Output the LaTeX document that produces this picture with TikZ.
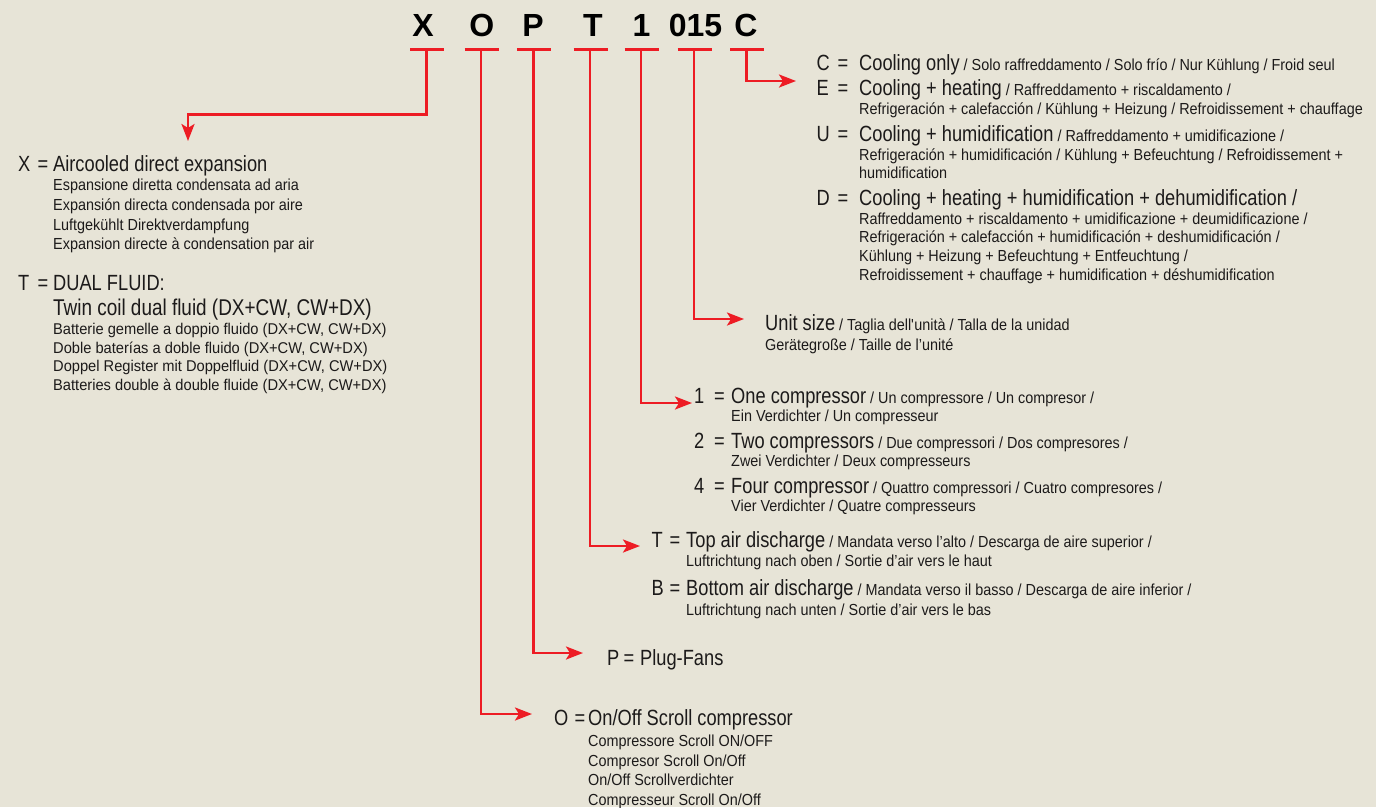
\documentclass[tikz,border=0pt]{standalone}
\usepackage{fontspec}
\setmainfont{Liberation Sans}[FakeStretch=0.83]
\newfontfamily\mfam{Liberation Sans}[FakeStretch=0.83]
\newfontfamily\sfam{Liberation Sans}[FakeStretch=0.9]
\newfontfamily\tfam{Liberation Sans}[FakeStretch=0.94]
\newfontfamily\hfam{Liberation Sans}
\usetikzlibrary{arrows.meta}
\definecolor{bg}{RGB}{231,228,215}
\definecolor{rd}{RGB}{237,28,36}
\definecolor{ink}{RGB}{28,26,26}
\newcommand\mainsz{\mfam\fontsize{22}{24}\selectfont}
\newcommand\smallsz{\sfam\fontsize{16}{19}\selectfont}
\newcommand\tsz{\tfam\fontsize{15.6}{19}\selectfont}
\newcommand\kq[3]{\makebox[#1][l]{#2\hfill=\hspace*{#3}}}
\begin{document}
\begin{tikzpicture}[x=1pt,y=-1pt,
  txt/.style={anchor=base west, inner sep=0pt, text=ink, font=\mainsz},
  sm/.style={anchor=base west, inner sep=0pt, text=ink, font=\smallsz},
  tsm/.style={anchor=base west, inner sep=0pt, text=ink, font=\tsz},
  head/.style={anchor=base, inner sep=0pt, text=black, font=\hfam\bfseries\fontsize{32}{36}\selectfont},
  bar/.style={rd, line width=2.6pt},
  conn/.style={rd, line width=2.6pt, line join=miter, -{Stealth[length=17pt,width=13pt,inset=4pt]}}]
\fill[bg] (0,0) rectangle (1376,807);
\useasboundingbox (0,0) rectangle (1376,807);

% heading code
\node[head] (hX) at (423,36) {X};
\node[head] (hO) at (481.7,36) {O};
\node[head] (hP) at (533,36) {P};
\node[head] (hT) at (593,36) {T};
\node[head] (h1) at (641.5,36) {1};
\node[head] (h015) at (695.5,36) {015};
\node[head] (hC) at (746,36) {C};

% stem tops on the bars
\coordinate (sX) at (426.7,49.3);
\coordinate (sO) at (481,49.3);
\coordinate (sP) at (533.3,49.3);
\coordinate (sT) at (590,49.3);
\coordinate (s1) at (641,49.3);
\coordinate (s015) at (694,49.3);
\coordinate (sC) at (746.7,49.3);
\foreach \s in {sX,sO,sP,sT,s1,s015,sC}
  \draw[bar] ([xshift=-16.5pt]\s) -- ([xshift=17.5pt]\s);

% arrow tips
\coordinate (kX) at (188,114.3);
\coordinate (tX) at (188,141);
\coordinate (tO) at (532,714);
\coordinate (tP) at (583,653);
\coordinate (tT) at (640,546);
\coordinate (t1) at (692,403);
\coordinate (t015) at (744,319);
\coordinate (tC) at (796,81);

\draw[conn] (sX) |- (kX) -- (tX);
\draw[conn] (sO) |- (tO);
\draw[conn] (sP) |- (tP);
\draw[conn] (sT) |- (tT);
\draw[conn] (s1) |- (t1);
\draw[conn] (s015) |- (t015);
\draw[conn] (sC) |- (tC);

% left block
\node[txt] (x0) at (18,171) {\kq{35pt}{X}{5pt}Aircooled direct expansion};
\node[sm] (x1) at (53,190.7) {Espansione diretta condensata ad aria};
\node[sm] (x2) at (53,210.3) {Expansión directa condensada por aire};
\node[sm] (x3) at (53,230) {Luftgekühlt Direktverdampfung};
\node[sm] (x4) at (53,249.7) {Expansion directe à condensation par air};
\node[txt] (d0) at (18,290) {\kq{35pt}{T}{5pt}DUAL FLUID:};
\node[txt, font=\mfam\fontsize{22.8}{24}\selectfont] (d1) at (53,315.7) {Twin coil dual fluid (DX+CW, CW+DX)};
\node[tsm] (d2) at (53,334.5) {Batterie gemelle a doppio fluido (DX+CW, CW+DX)};
\node[tsm] (d3) at (53,353.2) {Doble baterías a doble fluido (DX+CW, CW+DX)};
\node[tsm] (d4) at (53,371.9) {Doppel Register mit Doppelfluid (DX+CW, CW+DX)};
\node[tsm] (d5) at (53,390.6) {Batteries double à double fluide (DX+CW, CW+DX)};

% right block (C)
\node[txt] (c0) at (816.5,70.5) {\kq{42.5pt}{C}{11pt}Cooling only{\smallsz\ / Solo raffreddamento / Solo frío / Nur Kühlung / Froid seul}};
\node[txt] (e0) at (816.5,95.5) {\kq{42.5pt}{E}{11pt}Cooling + heating{\smallsz\ / Raffreddamento + riscaldamento /}};
\node[sm] (e1) at (859,114) {Refrigeración + calefacción / Kühlung + Heizung / Refroidissement + chauffage};
\node[txt] (u0) at (816.5,141.5) {\kq{42.5pt}{U}{11pt}Cooling + humidification{\smallsz\ / Raffreddamento + umidificazione /}};
\node[sm] (u1) at (859,160) {Refrigeración + humidificación / Kühlung + Befeuchtung / Refroidissement +};
\node[sm] (u2) at (859,178) {humidification};
\node[txt] (h0) at (816.5,205.5) {\kq{42.5pt}{D}{11pt}Cooling + heating + humidification + dehumidification /};
\node[sm] (h1) at (859,224) {Raffreddamento + riscaldamento + umidificazione + deumidificazione /};
\node[sm] (h2) at (859,242.7) {Refrigeración + calefacción + humidificación + deshumidificación /};
\node[sm] (h3) at (859,261.4) {Kühlung + Heizung + Befeuchtung + Entfeuchtung /};
\node[sm] (h4) at (859,280) {Refroidissement + chauffage + humidification + déshumidification};

% unit size
\node[txt] (z0) at (765,330) {Unit size{\smallsz\ / Taglia dell\textquotesingle unità / Talla de la unidad}};
\node[sm] (z1) at (765,350) {Gerätegroße / Taille de l’unité};

% compressors
\node[txt] (n1) at (694,403.5) {\kq{37pt}{1}{6.5pt}One compressor{\smallsz\ / Un compressore / Un compresor /}};
\node[sm] (n1b) at (731,421.5) {Ein Verdichter / Un compresseur};
\node[txt] (n2) at (694,448) {\kq{37pt}{2}{6.5pt}Two compressors{\smallsz\ / Due compressori / Dos compresores /}};
\node[sm] (n2b) at (731,466.5) {Zwei Verdichter / Deux compresseurs};
\node[txt] (n4) at (694,493) {\kq{37pt}{4}{6.5pt}Four compressor{\smallsz\ / Quattro compressori / Cuatro compresores /}};
\node[sm] (n4b) at (731,511) {Vier Verdichter / Quatre compresseurs};

% air discharge
\node[txt] (a0) at (651.5,547) {\kq{34.5pt}{T}{6pt}Top air discharge{\smallsz\ / Mandata verso l’alto / Descarga de aire superior /}};
\node[sm] (a1) at (686,566.7) {Luftrichtung nach oben / Sortie d’air vers le haut};
\node[txt] (b0) at (651.5,595.5) {\kq{34.5pt}{B}{6pt}Bottom air discharge{\smallsz\ / Mandata verso il basso / Descarga de aire inferior /}};
\node[sm] (b1) at (686,615) {Luftrichtung nach unten / Sortie d’air vers le bas};

% fans
\node[txt] (p0) at (607,665) {\kq{33pt}{P}{6pt}Plug-Fans};

% compressor type
\node[txt] (o0) at (554,725) {\kq{34pt}{O}{3pt}On/Off Scroll compressor};
\node[sm] (o1) at (588,746.7) {Compressore Scroll ON/OFF};
\node[sm] (o2) at (588,766.2) {Compresor Scroll On/Off};
\node[sm] (o3) at (588,785.8) {On/Off Scrollverdichter};
\node[sm] (o4) at (588,805.2) {Compresseur Scroll On/Off};
\end{tikzpicture}
\end{document}
